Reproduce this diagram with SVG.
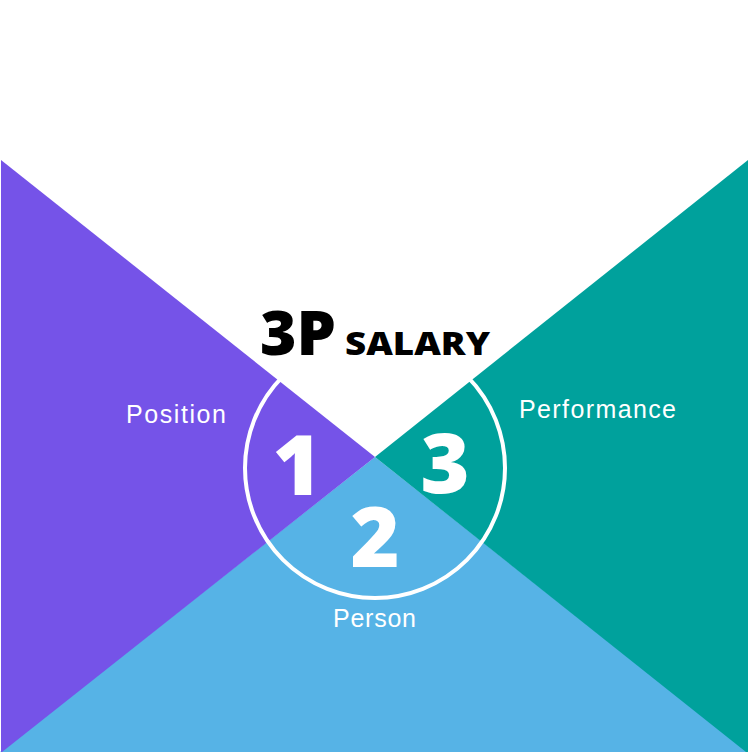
<svg xmlns="http://www.w3.org/2000/svg" width="748" height="752" viewBox="0 0 748 752">
<style>
.num{font-family:"Open Sans","Noto Sans",sans-serif;font-weight:800;fill:#fff;text-anchor:middle}
.lbl{font-family:"Liberation Sans",Arial,sans-serif;font-size:25px;fill:#fff}
.title{font-family:"Open Sans","Noto Sans",sans-serif;font-weight:800;fill:#000}
</style>
<rect width="748" height="752" fill="#fff"/>
<g id="person"><polygon points="375,457 0,752 748,752" fill="#56B3E6"/></g>
<g id="position"><polygon points="1,160 375,457 2,752 1,752" fill="#7553E8"/></g>
<g id="performance"><polygon points="748,160 375,457 746,752 748,752" fill="#00A19C"/></g>
<g id="ring"><circle cx="375" cy="468" r="130" fill="none" stroke="#fff" stroke-width="4"/></g>
<g id="title">
<text class="title" x="260" y="355" font-size="62" textLength="76" lengthAdjust="spacingAndGlyphs">3P</text>
<text class="title" x="345" y="355" font-size="32" textLength="145" lengthAdjust="spacingAndGlyphs">SALARY</text>
</g>
<g id="n1"><text class="num" x="297" y="495" font-size="84">1</text></g>
<g id="n2"><text class="num" x="375" y="567" font-size="84">2</text></g>
<g id="n3"><text class="num" x="445" y="493" font-size="84">3</text></g>
<g id="labels">
<text class="lbl" x="126" y="423" textLength="100" lengthAdjust="spacing">Position</text>
<text class="lbl" x="519" y="418" textLength="157" lengthAdjust="spacing">Performance</text>
<text class="lbl" x="333" y="627" textLength="83" lengthAdjust="spacing">Person</text>
</g>
</svg>
